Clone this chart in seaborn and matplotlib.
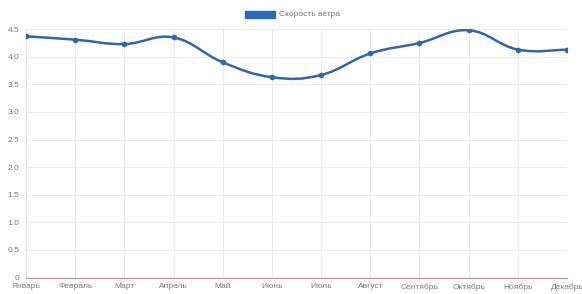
import numpy as np
import pandas as pd
import matplotlib
matplotlib.use("Agg")
import matplotlib.pyplot as plt
from matplotlib.path import Path
from matplotlib.patches import PathPatch
import seaborn as sns

###############
# Data
###############
months = ['Январь', 'Февраль', 'Март', 'Апрель', 'Май', 'Июнь',
          'Июль', 'Август', 'Сентябрь', 'Октябрь', 'Ноябрь', 'Декабрь']
wind_speed = [4.37, 4.31, 4.23, 4.35, 3.90, 3.63, 3.67, 4.06, 4.25, 4.48, 4.13, 4.13]
y_ticks = [0, 0.5, 1.0, 1.5, 2.0, 2.5, 3.0, 3.5, 4.0, 4.5]
y_tick_labels = ['0', '0.5', '1.0', '1.5', '2.0', '2.5', '3.0', '3.5', '4.0', '4.5']
series_name = 'Скорость ветра'

line_color = '#2d67ad'
text_color = '#7a7a7a'


###############
# Helpers
###############
def smoothPath(xs, ys, tension=0.4):
    # chart.js style bezier curve through the points
    verts = [(xs[0], ys[0])]
    codes = [Path.MOVETO]
    n = len(xs)
    for i in range(n - 1):
        x0, y0 = (xs[i - 1], ys[i - 1]) if i > 0 else (xs[i], ys[i])
        x1, y1 = xs[i], ys[i]
        x2, y2 = xs[i + 1], ys[i + 1]
        x3, y3 = (xs[i + 2], ys[i + 2]) if i + 2 < n else (x2, y2)
        c1 = (x1 + (x2 - x0) * tension / 2, y1 + (y2 - y0) * tension / 2)
        c2 = (x2 - (x3 - x1) * tension / 2, y2 - (y3 - y1) * tension / 2)
        verts += [c1, c2, (x2, y2)]
        codes += [Path.CURVE4, Path.CURVE4, Path.CURVE4]
    return Path(verts, codes)


df = pd.DataFrame({'month': months, 'speed': wind_speed})
df['pos'] = np.arange(len(months))

sns.set_style('white')
plt.rcParams['font.family'] = ['Liberation Sans', 'DejaVu Sans']

fig = plt.figure(figsize=(5.82, 2.94), dpi=100)
ax = fig.add_axes([0.0447, 0.0558, 0.9296, 0.845])

patch = PathPatch(smoothPath(df['pos'].values, df['speed'].values),
                  facecolor='none', edgecolor=line_color, lw=1.8, zorder=3)
ax.add_patch(patch)
sns.scatterplot(ax=ax, data=df, x='pos', y='speed', color=line_color,
                s=14, edgecolor=line_color, zorder=4, legend=False)

ax.set_xlim(0, len(months) - 1)
ax.set_ylim(0, 4.5)
ax.set_xticks(df['pos'])
ax.set_xticklabels(months)
ax.set_yticks(y_ticks)
ax.set_yticklabels(y_tick_labels)
ax.set_xlabel('')
ax.set_ylabel('')
ax.tick_params(axis='both', labelsize=6, colors=text_color, length=0)
ax.tick_params(axis='x', pad=4)
ax.tick_params(axis='y', pad=5)
ax.grid(True, color='#ececec', lw=0.8)
for side in ['top', 'right']:
    ax.spines[side].set_visible(False)
ax.spines['left'].set_color('#e6e6e6')
ax.spines['bottom'].set_color('#b99a8c')
ax.spines['bottom'].set_linewidth(0.9)

# legend box at the top
fig.patches.append(plt.Rectangle((245 / 582, 1 - 18 / 294), 30 / 582, 7 / 294,
                                 transform=fig.transFigure, color='#2a6bb8'))
fig.text(279 / 582, 1 - 14.5 / 294, series_name, fontsize=6, color=text_color,
         va='center', ha='left')

plt.savefig('out.png', dpi=100)
